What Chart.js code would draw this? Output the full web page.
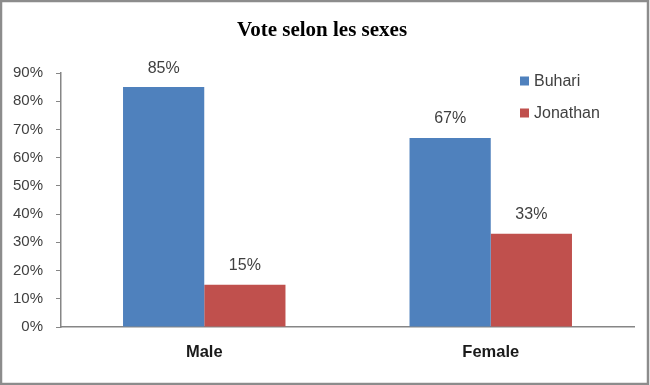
<!DOCTYPE html>
<html lang="fr">
<head>
  <meta charset="UTF-8">
  <title>Vote selon les sexes</title>
  <style>
    body { margin: 0; background: #fff; }
    canvas { display: block; }
  </style>
  <script src="https://cdn.jsdelivr.net/npm/chart.js"></script>
</head>
<body>

<canvas id="voteChart" width="650" height="385"></canvas>

<script>
  const categories = ['Male', 'Female'];
  const buhari = [85, 67];
  const jonathan = [15, 33];
  const seriesNames = ['Buhari', 'Jonathan'];
  const yTicks = [0, 10, 20, 30, 40, 50, 60, 70, 80, 90];
  const chartTitle = 'Vote selon les sexes';

  const blue = '#4F81BD';
  const red = '#C0504D';
  const axisGray = '#868686';

  // titre, étiquettes de valeurs, légende et cadre dessinés à la main
  const extras = {
    id: 'extras',
    afterDatasetsDraw(chart) {
      const ctx = chart.ctx;
      ctx.save();
      ctx.font = '16px "Liberation Sans", Arial';
      ctx.fillStyle = '#404040';
      ctx.textAlign = 'center';
      ctx.textBaseline = 'middle';
      chart.data.datasets.forEach((ds, i) => {
        chart.getDatasetMeta(i).data.forEach((bar, j) => {
          ctx.fillText(ds.data[j] + '%', bar.x, bar.y - 19);
        });
      });
      ctx.restore();
    },
    afterDraw(chart) {
      const ctx = chart.ctx;
      ctx.save();
      // titre
      ctx.font = 'bold 21px "Liberation Serif", "Times New Roman", serif';
      ctx.fillStyle = '#000';
      ctx.textAlign = 'center';
      ctx.textBaseline = 'middle';
      ctx.fillText(chartTitle, 322, 31);

      // légende
      ctx.font = '16px "Liberation Sans", Arial';
      ctx.textAlign = 'left';
      const colors = [blue, red];
      const ys = [81, 113];
      seriesNames.forEach((name, i) => {
        ctx.fillStyle = colors[i];
        ctx.fillRect(520, ys[i] - 4.5, 9, 9);
        ctx.fillStyle = '#404040';
        ctx.fillText(name, 534, ys[i] + 1);
      });

      // cadre
      ctx.strokeStyle = '#8c8c8c';
      ctx.lineWidth = 2.5;
      ctx.strokeRect(1, 1, 647, 383);
      ctx.restore();
    }
  };

  const ctx = document.getElementById('voteChart').getContext('2d');
  new Chart(ctx, {
    type: 'bar',
    data: {
      labels: categories,
      datasets: [
        { label: seriesNames[0], data: buhari, backgroundColor: blue },
        { label: seriesNames[1], data: jonathan, backgroundColor: red }
      ]
    },
    options: {
      responsive: false,
      animation: false,
      layout: { padding: { top: 73, right: 16, left: 0, bottom: 0 } },
      datasets: { bar: { barPercentage: 1, categoryPercentage: 0.567 } },
      plugins: {
        legend: { display: false },
        tooltip: { enabled: false }
      },
      scales: {
        x: {
          grid: { display: false, drawTicks: false },
          border: { display: true, color: axisGray, width: 1.5 },
          ticks: {
            color: '#1a1a1a',
            padding: 16,
            font: { family: '"Liberation Sans", Arial', size: 16.5, weight: 'bold' }
          },
          afterFit(scale) { scale.height = 58; }
        },
        y: {
          min: 0,
          max: 90,
          afterBuildTicks(scale) { scale.ticks = yTicks.map(v => ({ value: v })); },
          grid: { drawOnChartArea: false, drawTicks: true, tickLength: 5, color: axisGray },
          border: { display: true, color: axisGray, width: 1.5 },
          ticks: {
            color: '#404040',
            padding: 13,
            font: { family: '"Liberation Sans", Arial', size: 15 },
            callback: v => v + '%'
          },
          afterFit(scale) { scale.width = 61; }
        }
      }
    },
    plugins: [extras]
  });
</script>

</body>
</html>
